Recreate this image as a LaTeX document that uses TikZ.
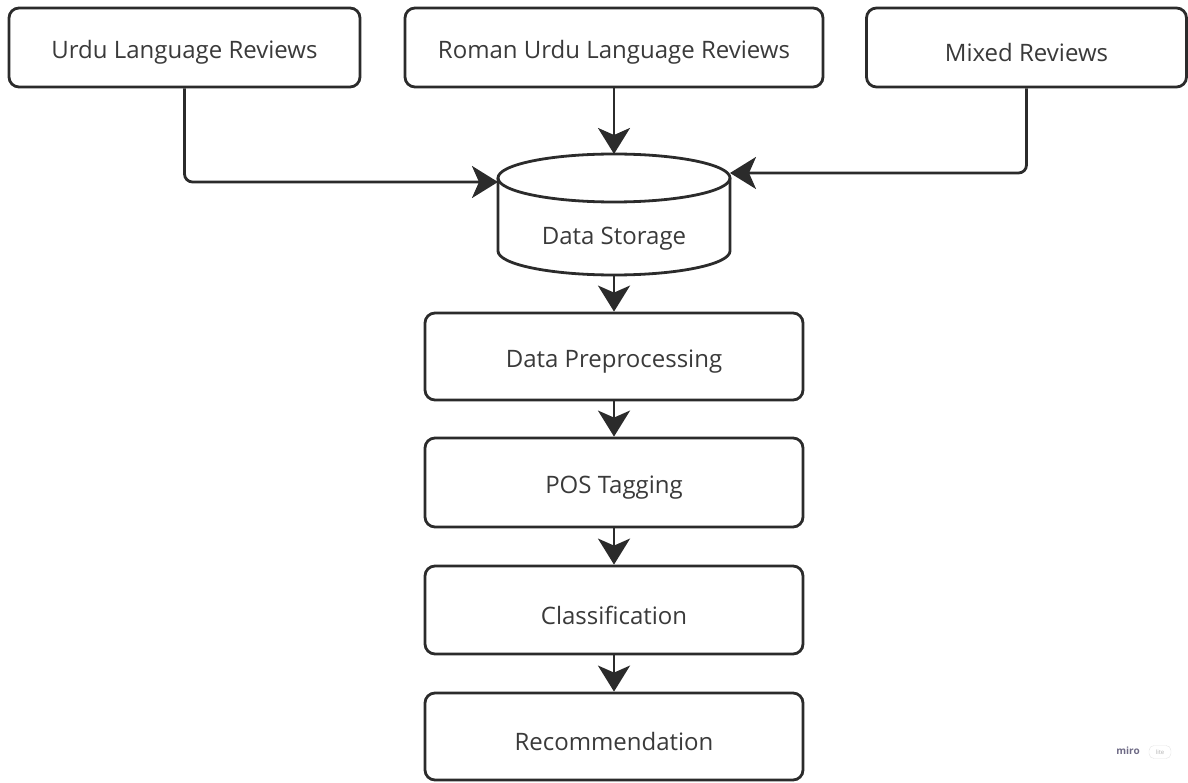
\documentclass[tikz,border=0pt]{standalone}
\usepackage{fontspec}
\setmainfont{Open Sans}
\usetikzlibrary{arrows.meta}
\definecolor{lineC}{HTML}{2B2B2B}
\definecolor{txtC}{HTML}{3A3A3A}
\definecolor{miroC}{HTML}{6E6A85}
\begin{document}
\begin{tikzpicture}[x=1pt,y=-1pt,
  box/.style={draw=lineC,line width=2.8pt,rounded corners=10pt,fill=white,text=txtC,inner sep=0pt},
  lbl/.style={text=txtC,font=\fontsize{24}{28}\selectfont,yshift=-5pt},
  conn/.style={draw=lineC,line width=2.8pt,rounded corners=8pt,-{Stealth[length=26pt,width=32pt,inset=7pt]}},
]
\useasboundingbox (0,0) rectangle (1188,783);
% top boxes
\node[box,minimum width=351pt,minimum height=79pt] (urdu) at (184.5,47.5) {};
\node[lbl] at (urdu.center) {Urdu Language Reviews};
\node[box,minimum width=418pt,minimum height=79pt] (roman) at (614,47.5) {};
\node[lbl] at (roman.center) {Roman Urdu Language Reviews};
\node[box,minimum width=320pt,minimum height=79pt] (mixed) at (1026.5,47.5) {};
\node[lbl] at (mixed.center) {Mixed Reviews};
% cylinder
\node[minimum width=232pt,minimum height=121pt,inner sep=0pt] (ds) at (614,214.5) {};
\draw[lineC,line width=2.8pt,fill=white] (498,178) -- (498,251) arc[start angle=180,end angle=0,x radius=116,y radius=24] -- (730,178);
\draw[lineC,line width=2.8pt] (614,178) ellipse [x radius=116,y radius=24];
\node[lbl] at (614,234) {Data Storage};
\coordinate (dsL) at (498,182);
\coordinate (dsR) at (730,173);
\coordinate (dsT) at (614,154);
\coordinate (dsB) at (614,275);
% process boxes
\node[box,minimum width=378pt,minimum height=87pt] (pre) at (614,356.5) {};
\node[lbl] at (pre.center) {Data Preprocessing};
\node[box,minimum width=378pt,minimum height=89pt] (pos) at (614,482.5) {};
\node[lbl] at (pos.center) {POS Tagging};
\node[box,minimum width=378pt,minimum height=88pt] (cls) at (614,610) {};
\node[lbl] at (cls.center) {Classification};
\node[box,minimum width=378pt,minimum height=87pt] (rec) at (614,736.5) {};
\node[lbl] at (rec.center) {Recommendation};
% connectors
\draw[conn] (urdu.south) |- (dsL);
\draw[conn] (mixed.south) |- (dsR);
\draw[conn] (roman.south) -- (dsT);
\draw[conn] (dsB) -- (pre.north);
\draw[conn] (pre.south) -- (pos.north);
\draw[conn] (pos.south) -- (cls.north);
\draw[conn] (cls.south) -- (rec.north);
% miro mark
\node[text=miroC,font=\bfseries\fontsize{10}{11}\selectfont,inner sep=0pt] (miro) at (1128,751) {miro};
\node[draw=gray!20,fill=white,rounded corners=5pt,text=gray!60,font=\fontsize{6}{7}\selectfont,minimum width=22pt,minimum height=13pt,inner sep=1pt] (lite) at (1160,752) {lite};
\end{tikzpicture}
\end{document}
